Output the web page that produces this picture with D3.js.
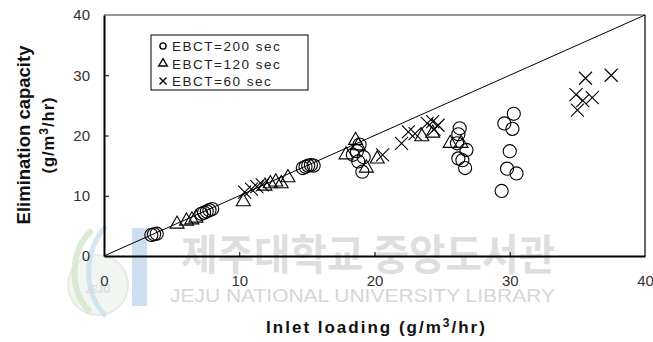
<!DOCTYPE html>
<html>
<head>
<meta charset="utf-8">
<script src="https://cdn.jsdelivr.net/npm/d3@7"></script>
<style>
  html, body { margin: 0; padding: 0; background: #fff; }
  svg { display: block; }
</style>
</head>
<body>
<svg id="chart" width="653" height="342"></svg>
<script>
// Inlet loading vs elimination capacity, g/m3/hr
const ebct200X = [3.5, 3.7, 3.9, 7.2, 7.4, 7.6, 7.8, 8.0, 14.7, 14.9, 15.1, 15.3, 15.5,
                  18.9, 18.7, 18.4, 18.8, 19.2, 19.1, 26.3, 26.2, 26.1, 26.8, 26.2, 26.5, 26.7,
                  29.6, 30.3, 30.2, 30.0, 29.8, 30.5, 29.4];
const ebct200Y = [3.5, 3.6, 3.7, 7.0, 7.2, 7.4, 7.6, 7.8, 14.6, 14.8, 15.0, 15.1, 15.0,
                  18.5, 17.4, 16.8, 15.7, 16.4, 14.0, 21.2, 20.2, 18.7, 17.6, 16.2, 15.9, 14.6,
                  22.0, 23.6, 21.1, 17.4, 14.5, 13.7, 10.8];

const ebct120X = [5.4, 6.1, 6.5, 6.8, 10.3, 11.9, 12.3, 12.7, 13.1, 13.6, 17.9, 18.6, 18.8, 19.4, 20.2,
                  23.5, 24.3, 25.6, 26.4];
const ebct120Y = [5.3, 5.8, 6.0, 6.3, 9.0, 11.6, 12.0, 12.3, 12.0, 13.0, 16.8, 19.2, 18.3, 14.6, 16.1,
                  19.8, 20.4, 18.7, 18.7];

const ebct60X = [10.4, 10.9, 11.3, 11.7, 20.6, 22.0, 22.5, 23.0, 23.9, 24.3, 24.7, 24.4,
                 35.0, 34.9, 35.4, 35.6, 36.1, 37.5];
const ebct60Y = [10.6, 11.1, 11.5, 11.8, 16.8, 18.7, 20.6, 20.3, 22.0, 22.3, 21.7, 21.0,
                 24.2, 26.8, 25.8, 29.5, 26.3, 30.0];

const xTicks = [0, 10, 20, 30, 40];
const yTicks = [0, 10, 20, 30, 40];
const legendLabels = ["EBCT=200 sec", "EBCT=120 sec", "EBCT=60 sec"];

const svg = d3.select("#chart");
const x = d3.scaleLinear().domain([0, 40]).range([104, 645]);
const y = d3.scaleLinear().domain([0, 40]).range([256, 15]);

// faint library watermark behind the plot
const wm = svg.append("g").attr("class", "watermark");
wm.append("circle").attr("cx", 98).attr("cy", 285).attr("r", 30)
  .attr("fill", "#f3f5f3").attr("stroke", "#e6ece4").attr("stroke-width", 2);
wm.append("path")
  .attr("d", "M 92 230 C 70 250, 68 290, 90 312")
  .attr("fill", "none").attr("stroke", "#d3e6c8").attr("stroke-width", 6).attr("opacity", 0.8);
wm.append("path")
  .attr("d", "M 106 226 C 84 250, 82 292, 106 316")
  .attr("fill", "none").attr("stroke", "#c9def0").attr("stroke-width", 5).attr("opacity", 0.8);
wm.append("text").attr("x", 98).attr("y", 293).attr("text-anchor", "middle")
  .attr("font-family", "Liberation Sans").attr("font-size", 10).attr("font-weight", "bold")
  .attr("fill", "#d8dde0").text("JEJU");
wm.append("rect").attr("x", 132).attr("y", 228).attr("width", 15).attr("height", 78)
  .attr("fill", "#c5d8ee").attr("opacity", 0.85);
wm.append("text").attr("x", 181).attr("y", 270)
  .attr("font-family", "Noto Sans CJK KR").attr("font-size", 42).attr("font-weight", "bold")
  .attr("textLength", 374).attr("lengthAdjust", "spacingAndGlyphs")
  .attr("fill", "#dedede")
  .text("제주대학교 중앙도서관");
wm.append("text").attr("x", 170).attr("y", 302)
  .attr("font-family", "Liberation Sans").attr("font-size", 18.5)
  .attr("textLength", 385).attr("lengthAdjust", "spacingAndGlyphs")
  .attr("fill", "#d6d6d6")
  .text("JEJU NATIONAL UNIVERSITY  LIBRARY");

// plot frame
svg.append("line").attr("x1", x(0)).attr("x2", x(40)).attr("y1", y(40)).attr("y2", y(40))
  .attr("stroke", "#777").attr("stroke-width", 1.5);
svg.append("line").attr("x1", x(40)).attr("x2", x(40)).attr("y1", y(40)).attr("y2", y(0))
  .attr("stroke", "#000").attr("stroke-width", 1.2);

// axes with inward ticks
const xAxis = d3.axisBottom(x).tickValues(xTicks).tickSizeInner(-4).tickSizeOuter(0).tickPadding(19);
const yAxis = d3.axisLeft(y).tickValues(yTicks).tickSizeInner(-5).tickSizeOuter(0).tickPadding(14);

const gx = svg.append("g").attr("transform", `translate(0,${y(0)})`).call(xAxis);
const gy = svg.append("g").attr("transform", `translate(${x(0)},0)`).call(yAxis);
[gx, gy].forEach(g => {
  g.select(".domain").attr("stroke", "#000").attr("stroke-width", 2);
  g.selectAll(".tick line").attr("stroke", "#000").attr("stroke-width", 1);
  g.selectAll(".tick text").attr("font-family", "Liberation Sans, Arial, sans-serif")
    .attr("font-size", 15).attr("fill", "#333");
});
gx.selectAll(".tick text").attr("dy", "0.71em");
gx.selectAll(".tick").filter(d => d === 0 || d === 40).select("line").remove();
gy.selectAll(".tick").filter(d => d === 0 || d === 40).select("line").remove();

// 1:1 reference line
svg.append("line").attr("x1", x(0)).attr("y1", y(0)).attr("x2", x(40)).attr("y2", y(40))
  .attr("stroke", "#000").attr("stroke-width", 1);

// markers
const circleSym = d3.symbol().type(d3.symbolCircle).size(135);
const triSym = d3.symbol().type(d3.symbolTriangle).size(85);
const crossPath = s => `M${-s},${-s}L${s},${s}M${-s},${s}L${s},${-s}`;

function pts(xs, ys) { return xs.map((v, i) => ({ x: v, y: ys[i] })); }

svg.append("g").selectAll("path").data(pts(ebct200X, ebct200Y)).join("path")
  .attr("d", circleSym).attr("transform", d => `translate(${x(d.x)},${y(d.y)})`)
  .attr("fill", "none").attr("stroke", "#000").attr("stroke-width", 1.1);

svg.append("g").selectAll("path").data(pts(ebct120X, ebct120Y)).join("path")
  .attr("d", triSym).attr("transform", d => `translate(${x(d.x)},${y(d.y)})`)
  .attr("fill", "none").attr("stroke", "#000").attr("stroke-width", 1.1);

svg.append("g").selectAll("path").data(pts(ebct60X, ebct60Y)).join("path")
  .attr("d", crossPath(6.5)).attr("transform", d => `translate(${x(d.x)},${y(d.y)})`)
  .attr("fill", "none").attr("stroke", "#000").attr("stroke-width", 1.1);

// legend
const lg = svg.append("g").attr("transform", "translate(151,35)");
lg.append("rect").attr("width", 157).attr("height", 55)
  .attr("fill", "#fff").attr("stroke", "#000").attr("stroke-width", 1);
const legendMarks = [
  d3.symbol().type(d3.symbolCircle).size(30)(),
  d3.symbol().type(d3.symbolTriangle).size(32)(),
  crossPath(3.5)
];
legendLabels.forEach((t, i) => {
  const cy = 11 + i * 17.5;
  lg.append("path").attr("d", legendMarks[i]).attr("transform", `translate(12,${cy})`)
    .attr("fill", "none").attr("stroke", "#000").attr("stroke-width", 1.4);
  lg.append("text").attr("x", 21).attr("y", cy + 5)
    .attr("font-family", "Liberation Sans, Arial, sans-serif").attr("font-size", 13.5)
    .attr("letter-spacing", 1.5).attr("fill", "#222")
    .text(t);
});

// axis titles
svg.append("text").attr("x", x(20) + 2).attr("y", 333).attr("text-anchor", "middle")
  .attr("font-family", "Liberation Sans, Arial, sans-serif").attr("font-size", 17)
  .attr("font-weight", "bold").attr("letter-spacing", 2).attr("fill", "#111")
  .html('Inlet loading (g/m<tspan dy="-6" font-size="12">3</tspan><tspan dy="6">/hr)</tspan>');

const yt = svg.append("g").attr("transform", "translate(0,135) rotate(-90)");
yt.append("text").attr("x", 0).attr("y", 30).attr("text-anchor", "middle")
  .attr("font-family", "Liberation Sans, Arial, sans-serif").attr("font-size", 18.5)
  .attr("font-weight", "bold").attr("fill", "#111")
  .text("Elimination capacity");
yt.append("text").attr("x", 0).attr("y", 54).attr("text-anchor", "middle")
  .attr("font-family", "Liberation Sans, Arial, sans-serif").attr("font-size", 16.5)
  .attr("font-weight", "bold").attr("letter-spacing", 1).attr("fill", "#111")
  .html('(g/m<tspan dy="-6" font-size="12">3</tspan><tspan dy="6">/hr)</tspan>');
</script>
</body>
</html>
